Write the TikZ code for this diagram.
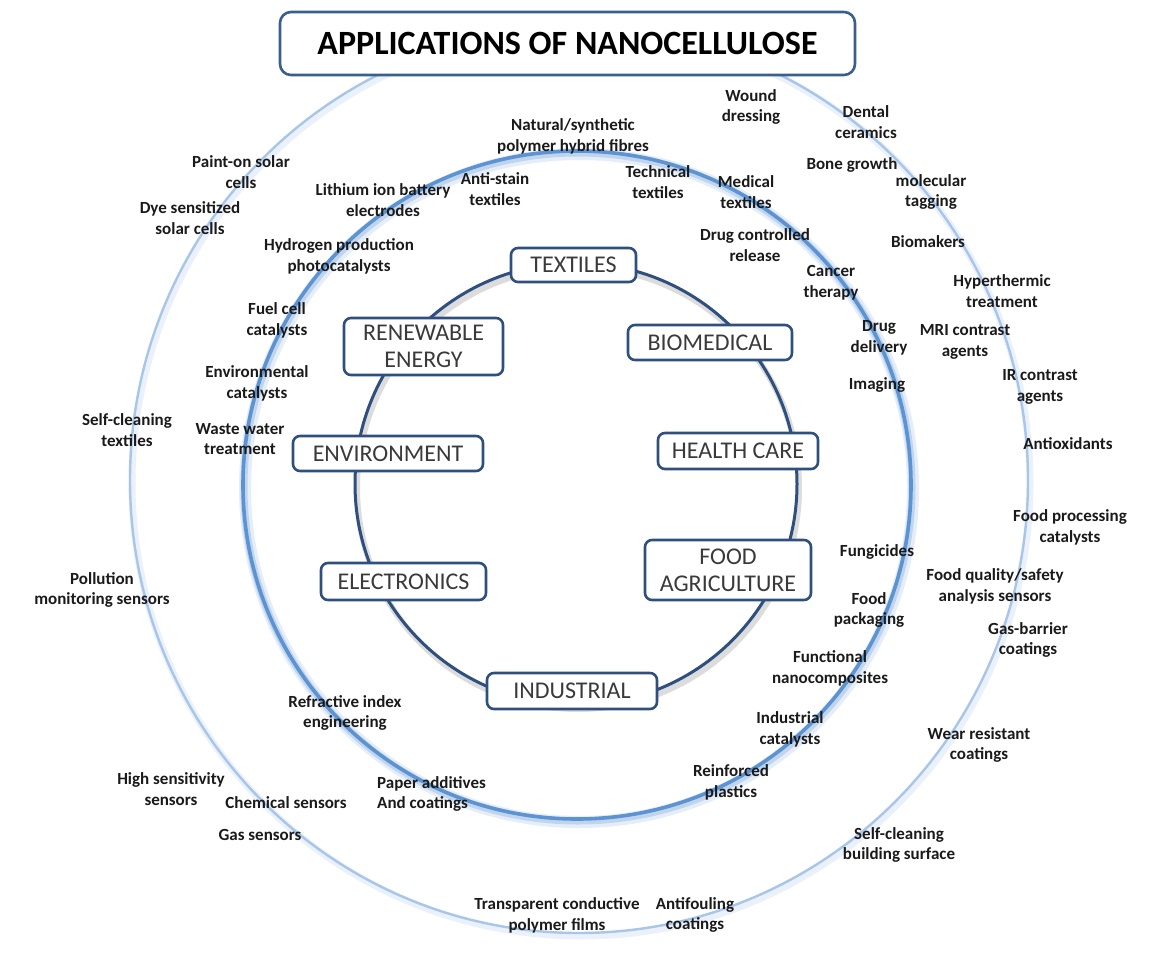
\documentclass[tikz,border=0pt]{standalone}
\usepackage{fontspec}
\setmainfont{Carlito}
\definecolor{navy}{HTML}{2F4F7F}
\definecolor{titleblue}{HTML}{3A5F8F}
\definecolor{midblue}{HTML}{5B93D3}
\definecolor{outblue}{HTML}{A8C6EA}
\definecolor{cattext}{HTML}{3A3A3A}
\definecolor{lbltext}{HTML}{1A1A1A}
\begin{document}
\begin{tikzpicture}[x=1pt,y=-1pt,
  catbox/.style={draw=navy, line width=2.6pt, rounded corners=7pt, fill=white,
    text=cattext, font=\fontsize{24}{27}\selectfont, align=center, inner sep=0pt},
  lbl/.style={font=\bfseries\fontsize{17}{20.8}\selectfont, align=center,
    text=lbltext, inner sep=0pt},
  lbll/.style={lbl, align=left}]
\useasboundingbox (0,0) rectangle (1156,953);
\fill[white] (0,0) rectangle (1156,953);

% outer ring
\coordinate (co) at (579,480);
\draw[outblue!50, line width=7pt, opacity=0.45] ([shift={(2,3)}]co) ellipse[x radius=449pt, y radius=453pt];
\draw[outblue, line width=2.4pt] (co) ellipse[x radius=449pt, y radius=453pt];
% middle ring
\coordinate (cm) at (577,485);
\draw[midblue!35, line width=12pt, opacity=0.45] ([shift={(2,3)}]cm) circle[radius=334pt];
\draw[midblue!60, line width=7pt, opacity=0.5] ([shift={(1,2)}]cm) circle[radius=334pt];
\draw[midblue, line width=3.6pt] (cm) circle[radius=334pt];
% inner ring
\coordinate (ci) at (576,484);
\draw[gray!60, line width=6pt, opacity=0.45] ([shift={(2,4)}]ci) circle[radius=221pt];
\draw[navy, line width=3pt] (ci) circle[radius=221pt];

% title
\node[draw=titleblue, line width=2.6pt, rounded corners=11pt, fill=white,
  minimum width=575pt, minimum height=63pt, inner sep=0pt,
  font=\bfseries\fontsize{34}{36}\selectfont, text=black]
  (title) at (567.5,43.5) {APPLICATIONS OF NANOCELLULOSE};

% categories
\node[catbox, minimum width=125pt, minimum height=34pt] (textiles) at (573.5,265) {TEXTILES};
\node[catbox, minimum width=159pt, minimum height=57pt] (renew) at (423.5,346.5) {RENEWABLE\\ENERGY};
\node[catbox, minimum width=164pt, minimum height=35pt] (biomed) at (710,342.5) {BIOMEDICAL};
\node[catbox, minimum width=190pt, minimum height=35pt] (environ) at (388,453.5) {ENVIRONMENT};
\node[catbox, minimum width=160pt, minimum height=36pt] (health) at (738,451) {HEALTH CARE};
\node[catbox, minimum width=166pt, minimum height=60pt] (food) at (728,570) {FOOD\\AGRICULTURE};
\node[catbox, minimum width=165pt, minimum height=37pt] (electro) at (403.5,581.5) {ELECTRONICS};
\node[catbox, minimum width=170pt, minimum height=36pt] (industrial) at (572,691) {INDUSTRIAL};

% outer labels
\node[lbl] (o1) at (241,172) {Paint-on solar\\cells};
\node[lbl] (o2) at (190,218) {Dye sensitized\\solar cells};
\node[lbl] (o3) at (127,430) {Self-cleaning\\textiles};
\node[lbl] (o4) at (102,590) {Pollution\\monitoring sensors};
\node[lbl] (o5) at (171,789) {High sensitivity\\sensors};
\node[lbl] (o6) at (286,803) {Chemical sensors};
\node[lbl] (o7) at (260,835) {Gas sensors};
\node[lbl] (o8) at (557,915) {Transparent conductive\\polymer films};
\node[lbl] (o9) at (695,915) {Antifouling\\coatings};
\node[lbl] (o10) at (899,845) {Self-cleaning\\building surface};
\node[lbl] (o11) at (979,745) {Wear resistant\\coatings};
\node[lbl] (o12) at (1028,640) {Gas-barrier\\coatings};
\node[lbl] (o13) at (995,586) {Food quality/safety\\analysis sensors};
\node[lbl] (o14) at (1070,527) {Food processing\\catalysts};
\node[lbl] (o15) at (1068,444) {Antioxidants};
\node[lbl] (o16) at (1040,387) {IR contrast\\agents};
\node[lbl] (o17) at (965,342) {MRI contrast\\agents};
\node[lbl] (o18) at (1002,291) {Hyperthermic\\treatment};
\node[lbl] (o19) at (928,242) {Biomakers};
\node[lbl] (o20) at (931,192) {molecular\\tagging};
\node[lbl] (o21) at (852,165) {Bone growth};
\node[lbl] (o22) at (866,122) {Dental\\ceramics};
\node[lbl] (o23) at (751,107) {Wound\\dressing};

% middle labels
\node[lbl] (m1) at (573,136) {Natural/synthetic\\polymer hybrid fibres};
\node[lbl] (m2) at (495,189) {Anti-stain\\textiles};
\node[lbl] (m3) at (383,200) {Lithium ion battery\\electrodes};
\node[lbl] (m4) at (339,256) {Hydrogen production\\photocatalysts};
\node[lbl] (m5) at (277,320) {Fuel cell\\catalysts};
\node[lbl] (m6) at (257,383) {Environmental\\catalysts};
\node[lbl] (m7) at (240,439) {Waste water\\treatment};
\node[lbl] (m8) at (658,182) {Technical\\textiles};
\node[lbl] (m9) at (746,192) {Medical\\textiles};
\node[lbl] (m10) at (755,245) {Drug controlled\\release};
\node[lbl] (m11) at (831,283) {Cancer\\therapy};
\node[lbl] (m12) at (879,338) {Drug\\delivery};
\node[lbl] (m13) at (877,385) {Imaging};
\node[lbl] (m14) at (877,552) {Fungicides};
\node[lbl] (m15) at (869,610) {Food\\packaging};
\node[lbl] (m16) at (830,668) {Functional\\nanocomposites};
\node[lbl] (m17) at (790,729) {Industrial\\catalysts};
\node[lbl] (m18) at (731,782) {Reinforced\\plastics};
\node[lbll, anchor=west] (m19) at (377,794) {Paper additives\\And coatings};
\node[lbl] (m20) at (345,713) {Refractive index\\engineering};
\end{tikzpicture}
\end{document}
